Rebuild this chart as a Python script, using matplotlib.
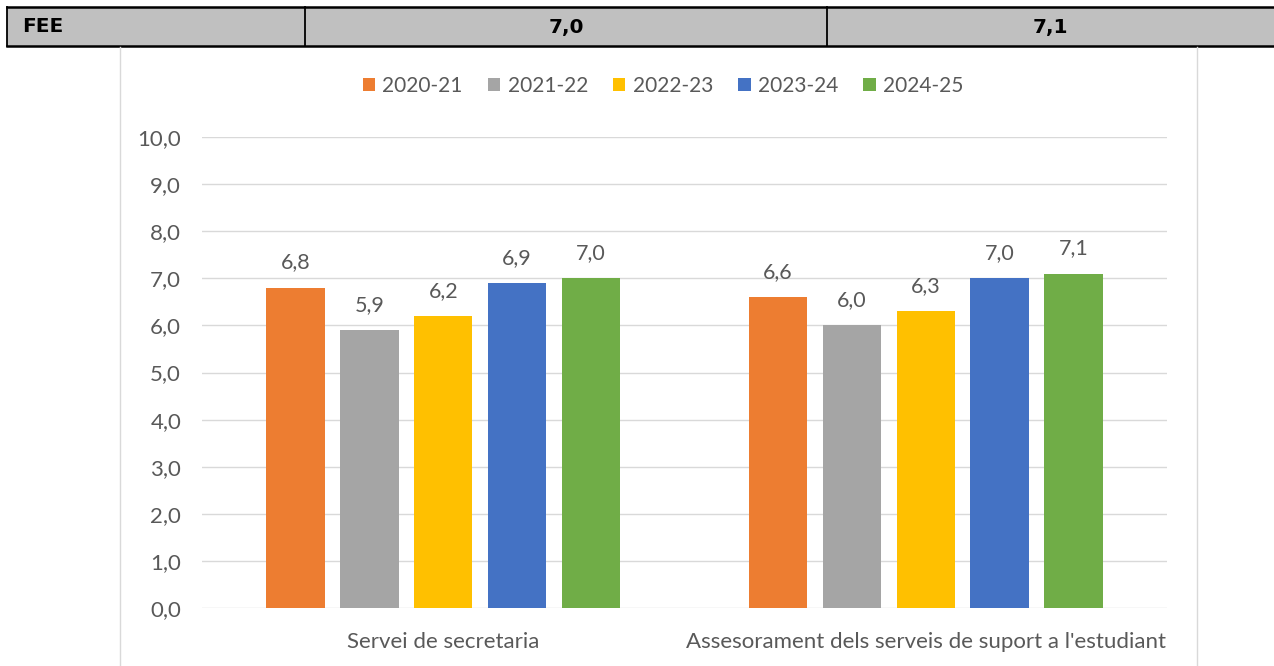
import numpy as np
import matplotlib
matplotlib.use('Agg')
import matplotlib.pyplot as plt
from matplotlib.patches import Rectangle
from matplotlib.lines import Line2D

# 데이터
categories = ['Servei de secretaria', "Assesorament dels serveis de suport a l'estudiant"]
years = ['2020-21', '2021-22', '2022-23', '2023-24', '2024-25']
values = [
    [6.8, 6.6],
    [5.9, 6.0],
    [6.2, 6.3],
    [6.9, 7.0],
    [7.0, 7.1],
]
colors = ['#ED7D31', '#A5A5A5', '#FFC000', '#4472C4', '#70AD47']
table_row = ['FEE', '7,0', '7,1']

W, H = 1274, 666
plt.rcParams['font.family'] = ['Lato', 'DejaVu Sans']
fig = plt.figure(figsize=(W / 100, H / 100), dpi=100)

def fx(px):
    return px / W

def fy(py):
    return 1 - py / H

# 표 행 (상단)
fig.patches.append(Rectangle((fx(7), fy(46)), fx(1274 - 7), fy(7) - fy(46),
                             transform=fig.transFigure, facecolor='#C0C0C0',
                             edgecolor='none', zorder=0))
for y in (7, 46):
    fig.add_artist(Line2D([fx(7), 1], [fy(y), fy(y)], color='black', lw=1.8))
for x in (7, 305, 827):
    fig.add_artist(Line2D([fx(x), fx(x)], [fy(7), fy(46)], color='black', lw=1.3))
tkw = dict(va='center', fontsize=14.5, fontweight='bold', family='DejaVu Sans')
fig.text(fx(22), fy(27), table_row[0], ha='left', **tkw)
fig.text(fx(566), fy(27), table_row[1], ha='center', **tkw)
fig.text(fx(1050), fy(27), table_row[2], ha='center', **tkw)

# 차트 테두리
for x in (120, 1197):
    fig.add_artist(Line2D([fx(x), fx(x)], [0, fy(47)], color='#D9D9D9', lw=1.0))

ax = fig.add_axes([fx(202), fy(608), fx(1167) - fx(202), fy(137) - fy(608)])
x = np.arange(len(categories))
step = 0.153
width = 0.121
for k, (yr, vals, c) in enumerate(zip(years, values, colors)):
    pos = x + (k - 2) * step
    bars = ax.bar(pos, vals, width, color=c, label=yr, zorder=3)
    for b, v in zip(bars, vals):
        ax.annotate(f'{v:.1f}'.replace('.', ','), (b.get_x() + b.get_width() / 2, v),
                    xytext=(0, 11), textcoords='offset points', ha='center', va='bottom',
                    fontsize=15.5, color='#595959')

ax.set_xlim(-0.5, 1.5)
ax.set_ylim(0, 10)
ax.set_yticks(np.arange(0, 11, 1))
ax.set_yticklabels([f'{v:.1f}'.replace('.', ',') for v in np.arange(0, 11, 1)])
ax.set_xticks(x)
ax.set_xticklabels(categories)
ax.tick_params(axis='both', length=0, labelsize=16, labelcolor='#595959')
ax.tick_params(axis='y', pad=15)
ax.tick_params(axis='x', pad=17)
ax.grid(axis='y', color='#D9D9D9', lw=1.0, zorder=0)
for s in ax.spines.values():
    s.set_visible(False)

fig.legend(loc='center', bbox_to_anchor=(fx(663), fy(86)), ncol=5, frameon=False,
           fontsize=15, labelcolor='#595959', handlelength=0.6, handleheight=0.6,
           handletextpad=0.35, columnspacing=1.2)

fig.savefig('out.png', dpi=100)
